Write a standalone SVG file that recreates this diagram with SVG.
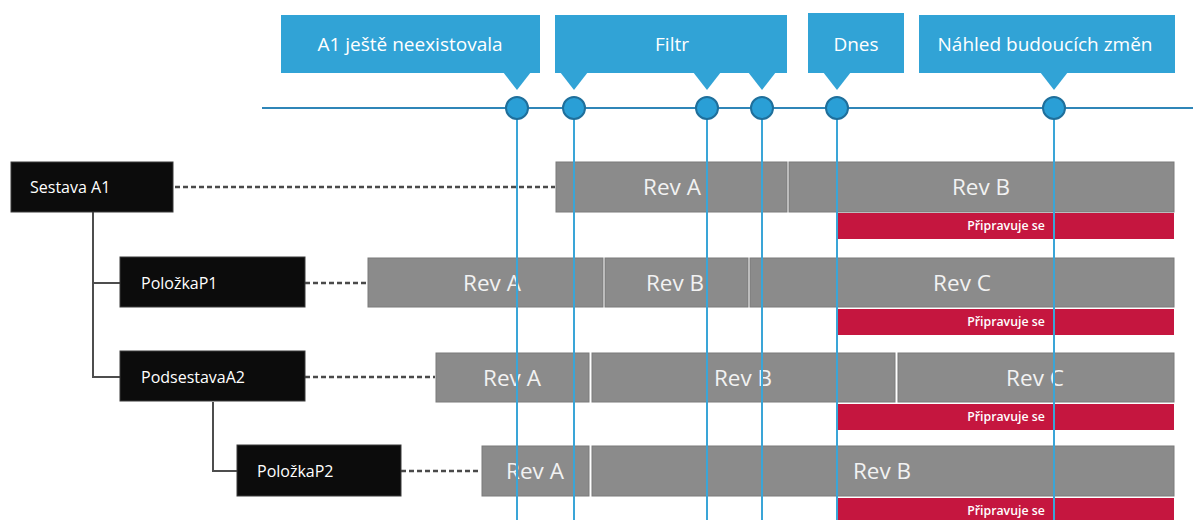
<svg xmlns="http://www.w3.org/2000/svg" width="1193" height="520" viewBox="0 0 1193 520">
<style>
.co{fill:#31a3d6}
.cot{font-family:"Open Sans","Noto Sans",sans-serif;font-size:19px;fill:#ffffff;text-anchor:middle}
.nd{fill:#0c0c0c;stroke:#3a3a3a;stroke-width:1}
.ndt{font-family:"Open Sans","Noto Sans",sans-serif;font-size:16px;fill:#ffffff}
.bar{fill:#8b8b8b;stroke:#7a7a7a;stroke-width:1}
.bt{font-family:"Open Sans","Noto Sans",sans-serif;font-size:22.5px;fill:#f2f2f2;text-anchor:middle}
.red{fill:#c5163f}
.rt{font-family:"Open Sans","Noto Sans",sans-serif;font-size:12.3px;font-weight:600;fill:#ffffff;text-anchor:middle}
.dash{stroke:#4a4a4a;stroke-width:2.5;stroke-dasharray:5 3;fill:none}
.tree{stroke:#4d4d4d;stroke-width:2;fill:none}
.vl{stroke:#3aa5d7;stroke-width:2}
.tl{stroke:#2f86b8;stroke-width:2}
.dot{fill:#2a9fd6;stroke:#1f6f9b;stroke-width:2}
</style>

<!-- bars -->
<g id="bars">
  <g id="row1">
    <rect class="bar" x="556" y="162" width="231" height="50"/>
    <text class="bt" x="672" y="195">Rev A</text>
    <rect class="bar" x="789" y="162" width="385" height="50"/>
    <text class="bt" x="981" y="195">Rev B</text>
    <rect class="red" x="837" y="213" width="337" height="26"/>
    <text class="rt" x="1006" y="230">Připravuje se</text>
  </g>
  <g id="row2">
    <rect class="bar" x="368" y="258" width="235" height="49"/>
    <text class="bt" x="492" y="291">Rev A</text>
    <rect class="bar" x="605" y="258" width="143" height="49"/>
    <text class="bt" x="675" y="291">Rev B</text>
    <rect class="bar" x="750" y="258" width="424" height="49"/>
    <text class="bt" x="962" y="291">Rev C</text>
    <rect class="red" x="837" y="309" width="337" height="26"/>
    <text class="rt" x="1006" y="326">Připravuje se</text>
  </g>
  <g id="row3">
    <rect class="bar" x="436" y="353" width="153" height="49"/>
    <text class="bt" x="512" y="386">Rev A</text>
    <rect class="bar" x="592" y="353" width="303" height="49"/>
    <text class="bt" x="743" y="386">Rev B</text>
    <rect class="bar" x="898" y="353" width="276" height="49"/>
    <text class="bt" x="1035" y="386">Rev C</text>
    <rect class="red" x="837" y="404" width="337" height="26"/>
    <text class="rt" x="1006" y="421">Připravuje se</text>
  </g>
  <g id="row4">
    <rect class="bar" x="482" y="446" width="107" height="50"/>
    <text class="bt" x="535" y="479">Rev A</text>
    <rect class="bar" x="592" y="446" width="582" height="50"/>
    <text class="bt" x="882" y="479">Rev B</text>
    <rect class="red" x="837" y="498" width="337" height="26"/>
    <text class="rt" x="1006" y="515">Připravuje se</text>
  </g>
</g>

<!-- connectors -->
<g id="connectors">
  <line class="dash" x1="175" y1="187" x2="555" y2="187"/>
  <line class="dash" x1="305" y1="283" x2="367" y2="283"/>
  <line class="dash" x1="305" y1="377" x2="435" y2="377"/>
  <line class="dash" x1="401" y1="471" x2="481" y2="471"/>
  <path class="tree" d="M93 212 V377 H120 M93 283 H120"/>
  <path class="tree" d="M213 402 V471 H237"/>
  <line class="vl" x1="517" y1="118" x2="517" y2="520"/>
  <line class="vl" x1="574" y1="118" x2="574" y2="520"/>
  <line class="vl" x1="707" y1="118" x2="707" y2="520"/>
  <line class="vl" x1="762" y1="118" x2="762" y2="520"/>
  <line class="vl" x1="837" y1="118" x2="837" y2="520"/>
  <line class="vl" x1="1054" y1="118" x2="1054" y2="520"/>
  <line class="tl" x1="262" y1="108" x2="1193" y2="108"/>
</g>

<!-- timeline dots -->
<g id="dots">
  <circle class="dot" cx="517" cy="108" r="11"/>
  <circle class="dot" cx="574" cy="108" r="11"/>
  <circle class="dot" cx="707" cy="108" r="11"/>
  <circle class="dot" cx="762" cy="108" r="11"/>
  <circle class="dot" cx="837" cy="108" r="11"/>
  <circle class="dot" cx="1054" cy="108" r="11"/>
</g>

<!-- callouts -->
<g id="callout-a1">
  <rect class="co" x="281" y="15" width="259" height="58"/>
  <polygon class="co" points="503,72 531,72 517,90"/>
  <text class="cot" x="410" y="51">A1 ještě neexistovala</text>
</g>
<g id="callout-filtr">
  <rect class="co" x="555" y="15" width="232" height="58"/>
  <polygon class="co" points="560,72 588,72 574,90"/>
  <polygon class="co" points="693,72 721,72 707,90"/>
  <polygon class="co" points="748,72 776,72 762,90"/>
  <text class="cot" x="672" y="51">Filtr</text>
</g>
<g id="callout-dnes">
  <rect class="co" x="808" y="13" width="96" height="60"/>
  <polygon class="co" points="823,72 851,72 837,90"/>
  <text class="cot" x="856" y="51">Dnes</text>
</g>
<g id="callout-nahled">
  <rect class="co" x="919" y="15" width="256" height="58"/>
  <polygon class="co" points="1040,72 1068,72 1054,90"/>
  <text class="cot" x="1045" y="51">Náhled budoucích změn</text>
</g>

<!-- tree nodes -->
<g id="node-sestava-a1">
  <rect class="nd" x="11" y="162" width="162" height="50"/>
  <text class="ndt" x="30" y="193">Sestava A1</text>
</g>
<g id="node-polozka-p1">
  <rect class="nd" x="120" y="257" width="185" height="50"/>
  <text class="ndt" x="141" y="289">PoložkaP1</text>
</g>
<g id="node-podsestava-a2">
  <rect class="nd" x="120" y="351" width="185" height="50"/>
  <text class="ndt" x="141" y="383">PodsestavaA2</text>
</g>
<g id="node-polozka-p2">
  <rect class="nd" x="237" y="445" width="164" height="51"/>
  <text class="ndt" x="257" y="477">PoložkaP2</text>
</g>
</svg>
